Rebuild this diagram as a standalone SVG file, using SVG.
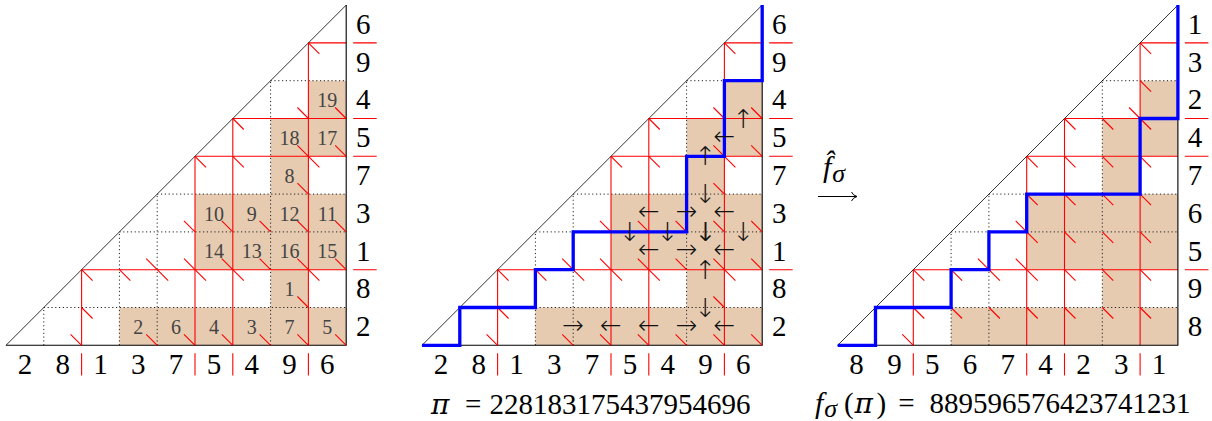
<svg xmlns="http://www.w3.org/2000/svg" xmlns:xlink="http://www.w3.org/1999/xlink" width="1212" height="421" viewBox="0 0 1212 421">
<style>
.shade{fill:#e6cbb1;stroke:none}
.dot{stroke:#222;stroke-width:1;stroke-dasharray:1.2 2.6;fill:none}
.red{stroke:#ff0000;stroke-width:1.1;fill:none}
.edge{stroke:#000;stroke-width:1.1;fill:none}
.hyp{stroke:#000;stroke-width:0.8;fill:none}
.mk{stroke:#ff0000;stroke-width:1.1;fill:none}
.blue{stroke:#0000ff;stroke-width:3.3;fill:none;stroke-linejoin:miter}
.lab{font-family:"Liberation Serif",serif;font-size:29px;text-anchor:middle;fill:#000}
.num{font-family:"Liberation Serif",serif;font-size:20px;text-anchor:middle;fill:#444}
.arr{font-family:"DejaVu Sans",sans-serif;font-weight:200;font-size:26px;text-anchor:middle;dominant-baseline:central;fill:#111}
.math{font-family:"Liberation Serif",serif;font-size:29px;fill:#000}
.it{font-family:"Liberation Serif",serif;font-size:30px;font-style:italic;fill:#000}
.sub{font-size:26px}
.pi{font-family:"DejaVu Serif",serif;font-style:italic;font-size:28px;fill:#000}
</style>
<defs>
<g id="base">
<path class="shade" d="M308.4,80.7h37.8v37.8h-37.8z M270.6,118.5h75.6v37.8h-75.6z M270.6,156.3h37.8v37.8h-37.8z M195,194.1h151.2v75.6h-151.2z M270.6,269.7h37.8v37.8h-37.8z M119.4,307.5h226.8v37.8h-226.8z"/>
<path class="dot" d="M43.8,345.3V307.5 M119.4,345.3V231.9 M157.2,345.3V194.1 M270.6,345.3V80.7 M43.8,307.5H346.2 M119.4,231.9H346.2 M157.2,194.1H346.2 M270.6,80.7H346.2"/>
<path class="red" d="M81.6,345.3V269.7 M195,345.3V156.3 M232.8,345.3V118.5 M308.4,345.3V42.9 M81.6,269.7H346.2 M195,156.3H346.2 M232.8,118.5H346.2 M308.4,42.9H346.2"/>
<path class="red" d="M81.6,353.3V375.5 M195,353.3V375.5 M232.8,353.3V375.5 M308.4,353.3V375.5 M353.2,269.7H376.7 M353.2,156.3H376.7 M353.2,118.5H376.7 M353.2,42.9H376.7"/>
<path class="edge" d="M6,345.3H346.2V5.1"/>
<path class="hyp" d="M6,345.3L346.2,5.1"/>
</g>
<g id="marksA">
<path class="mk" d="M308.4,42.9l11,11 M232.8,118.5l11,11 M195,156.3l11,11 M232.8,156.3l11,11 M297.4,145.3l22,22 M184,258.7l22,22 M221.8,258.7l22,22 M146.2,258.7l22,22 M297.4,258.7l22,22 M119.4,269.7l11,11 M81.6,269.7l11,11 M81.6,307.5l11,11 M335.2,107.5l11,11 M297.4,107.5l11,11 M335.2,145.3l11,11 M297.4,183.1l11,11 M184,220.9l11,11 M221.8,220.9l11,11 M259.6,220.9l11,11 M297.4,220.9l11,11 M335.2,220.9l11,11 M259.6,258.7l11,11 M335.2,258.7l11,11 M297.4,296.5l11,11 M70.6,334.3l11,11 M146.2,334.3l11,11 M184,334.3l11,11 M221.8,334.3l11,11 M259.6,334.3l11,11 M297.4,334.3l11,11 M335.2,334.3l11,11"/>
</g>
<g id="marksB">
<path class="mk" d="M308.4,42.9l11,11 M308.4,80.7l11,11 M297.4,107.5l22,22 M232.8,118.5l11,11 M270.6,118.5l11,11 M195,156.3l11,11 M232.8,156.3l11,11 M270.6,156.3l11,11 M308.4,156.3l11,11 M195,194.1l11,11 M232.8,194.1l11,11 M270.6,194.1l11,11 M308.4,194.1l11,11 M184,220.9l22,22 M232.8,231.9l11,11 M270.6,231.9l11,11 M308.4,231.9l11,11 M81.6,269.7l11,11 M119.4,269.7l11,11 M146.2,258.7l22,22 M184,258.7l22,22 M232.8,269.7l11,11 M270.6,269.7l11,11 M308.4,269.7l11,11 M81.6,307.5l11,11 M119.4,307.5l11,11 M157.2,307.5l11,11 M195,307.5l11,11 M232.8,307.5l11,11 M270.6,307.5l11,11 M308.4,307.5l11,11 M70.6,334.3l11,11"/>
</g>
</defs>

<g id="panel-left">
<use xlink:href="#base" href="#base"/>
<use xlink:href="#marksA" href="#marksA"/>
<g id="cell-numbers">
<text class="num" x="327.3" y="107.1">19</text>
<text class="num" x="289.5" y="144.9">18</text>
<text class="num" x="327.3" y="144.9">17</text>
<text class="num" x="289.5" y="182.7">8</text>
<text class="num" x="213.9" y="220.5">10</text>
<text class="num" x="251.7" y="220.5">9</text>
<text class="num" x="289.5" y="220.5">12</text>
<text class="num" x="327.3" y="220.5">11</text>
<text class="num" x="213.9" y="258.3">14</text>
<text class="num" x="251.7" y="258.3">13</text>
<text class="num" x="289.5" y="258.3">16</text>
<text class="num" x="327.3" y="258.3">15</text>
<text class="num" x="289.5" y="296.1">1</text>
<text class="num" x="138.3" y="333.9">2</text>
<text class="num" x="176.1" y="333.9">6</text>
<text class="num" x="213.9" y="333.9">4</text>
<text class="num" x="251.7" y="333.9">3</text>
<text class="num" x="289.5" y="333.9">7</text>
<text class="num" x="327.3" y="333.9">5</text>
</g>
<g id="left-bottom-labels">
<text class="lab" x="24.9" y="374">2</text><text class="lab" x="62.7" y="374">8</text><text class="lab" x="100.5" y="374">1</text><text class="lab" x="138.3" y="374">3</text><text class="lab" x="176.1" y="374">7</text><text class="lab" x="213.9" y="374">5</text><text class="lab" x="251.7" y="374">4</text><text class="lab" x="289.5" y="374">9</text><text class="lab" x="327.3" y="374">6</text>
</g>
<g id="left-right-labels">
<text class="lab" x="363.2" y="33.7">6</text><text class="lab" x="363.2" y="71.5">9</text><text class="lab" x="363.2" y="109.3">4</text><text class="lab" x="363.2" y="147.1">5</text><text class="lab" x="363.2" y="184.9">7</text><text class="lab" x="363.2" y="222.7">3</text><text class="lab" x="363.2" y="260.5">1</text><text class="lab" x="363.2" y="298.3">8</text><text class="lab" x="363.2" y="336.1">2</text>
</g>
</g>

<g id="panel-middle" transform="translate(416,0)">
<use xlink:href="#base" href="#base"/>
<use xlink:href="#marksA" href="#marksA"/>
<path class="blue" d="M6,345.3H43.8V307.5H119.4V269.7H157.2V231.9H270.6V156.3H308.4V80.7H346.2V5.1"/>
<g id="middle-arrows">
<text class="arr" x="157.2" y="325">→</text>
<text class="arr" x="195" y="325">←</text>
<text class="arr" x="232.8" y="325">←</text>
<text class="arr" x="270.6" y="325">→</text>
<text class="arr" x="308.4" y="325">←</text>
<text class="arr" x="232.8" y="249">←</text>
<text class="arr" x="270.6" y="249">→</text>
<text class="arr" x="308.4" y="249">←</text>
<text class="arr" x="232.8" y="211.2">←</text>
<text class="arr" x="270.6" y="211.2">→</text>
<text class="arr" x="308.4" y="211.2">←</text>
<text class="arr" x="308.4" y="136">←</text>
<text class="arr" x="289.5" y="307.5">↓</text>
<text class="arr" x="289.5" y="269.7">↑</text>
<text class="arr" x="213.9" y="231.9">↓</text>
<text class="arr" x="251.7" y="231.9">↓</text>
<text class="arr" x="289.5" y="231.9">↓</text>
<text class="arr" x="289.9" y="231.9">↓</text>
<text class="arr" x="327.3" y="231.9">↓</text>
<text class="arr" x="289.5" y="194.1">↓</text>
<text class="arr" x="289.5" y="156.3">↑</text>
<text class="arr" x="327.3" y="118.5">↑</text>
</g>
<g id="middle-bottom-labels">
<text class="lab" x="24.9" y="374">2</text><text class="lab" x="62.7" y="374">8</text><text class="lab" x="100.5" y="374">1</text><text class="lab" x="138.3" y="374">3</text><text class="lab" x="176.1" y="374">7</text><text class="lab" x="213.9" y="374">5</text><text class="lab" x="251.7" y="374">4</text><text class="lab" x="289.5" y="374">9</text><text class="lab" x="327.3" y="374">6</text>
</g>
<g id="middle-right-labels">
<text class="lab" x="363.2" y="33.7">6</text><text class="lab" x="363.2" y="71.5">9</text><text class="lab" x="363.2" y="109.3">4</text><text class="lab" x="363.2" y="147.1">5</text><text class="lab" x="363.2" y="184.9">7</text><text class="lab" x="363.2" y="222.7">3</text><text class="lab" x="363.2" y="260.5">1</text><text class="lab" x="363.2" y="298.3">8</text><text class="lab" x="363.2" y="336.1">2</text>
</g>
</g>

<g id="panel-right" transform="translate(831.7,0)">
<use xlink:href="#base" href="#base"/>
<use xlink:href="#marksB" href="#marksB"/>
<path class="blue" d="M6,345.3H43.8V307.5H119.4V269.7H157.2V231.9H195V194.1H308.4V118.5H346.2V5.1"/>
<g id="right-bottom-labels">
<text class="lab" x="24.9" y="374">8</text><text class="lab" x="62.7" y="374">9</text><text class="lab" x="100.5" y="374">5</text><text class="lab" x="138.3" y="374">6</text><text class="lab" x="176.1" y="374">7</text><text class="lab" x="213.9" y="374">4</text><text class="lab" x="251.7" y="374">2</text><text class="lab" x="289.5" y="374">3</text><text class="lab" x="327.3" y="374">1</text>
</g>
<g id="right-right-labels">
<text class="lab" x="363.2" y="33.7">1</text><text class="lab" x="363.2" y="71.5">3</text><text class="lab" x="363.2" y="109.3">2</text><text class="lab" x="363.2" y="147.1">4</text><text class="lab" x="363.2" y="184.9">7</text><text class="lab" x="363.2" y="222.7">6</text><text class="lab" x="363.2" y="260.5">5</text><text class="lab" x="363.2" y="298.3">9</text><text class="lab" x="363.2" y="336.1">8</text>
</g>
</g>

<g id="map-label">
<text class="it" x="823" y="177">f̂<tspan class="sub" dx="1" dy="5">σ</tspan></text>
<path d="M818,196.5H856.5 M851.5,192 Q853,195.5 857,196.5 Q853,197.5 851.5,201" stroke="#000" stroke-width="1" fill="none"/>
</g>

<g id="formula-pi">
<text class="pi" x="431" y="414">π</text>
<text class="math" x="473.3" y="414" text-anchor="middle">=</text>
<text class="math" x="489.5" y="414">228183175437954696</text>
</g>
<g id="formula-f">
<text class="it" x="815" y="413">f<tspan class="sub" dx="1" dy="4">σ</tspan></text>
<text class="math" x="844" y="413">(</text>
<text class="pi" x="854.5" y="413">π</text>
<text class="math" x="876.5" y="413">)</text>
<text class="math" x="906.5" y="413" text-anchor="middle">=</text>
<text class="math" x="929.5" y="413">889596576423741231</text>
</g>
</svg>
